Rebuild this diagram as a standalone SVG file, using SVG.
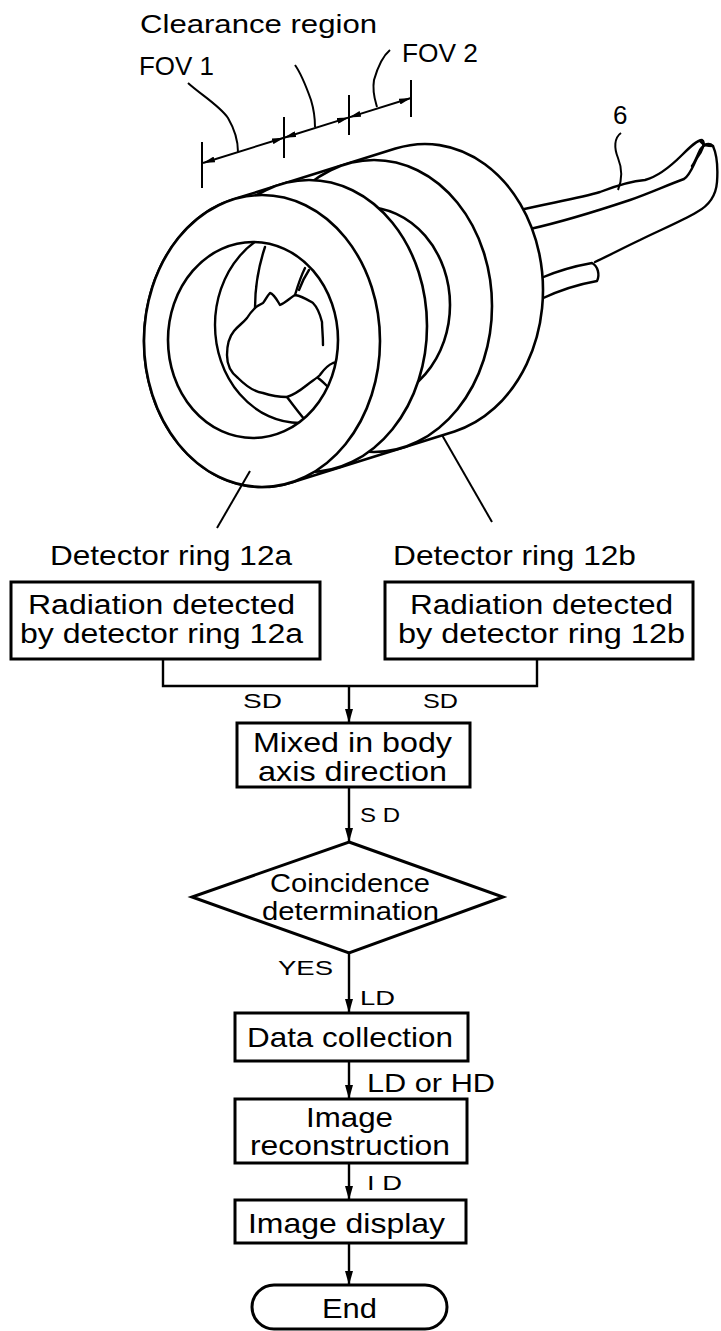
<svg xmlns="http://www.w3.org/2000/svg" width="721" height="1331" viewBox="0 0 721 1331">
<defs>
<style>
text{font-family:"Liberation Sans",Arial,sans-serif;fill:#000}
.t{font-size:28px}
.r{font-size:27px}
.s{font-size:26px}
.lbl{font-size:21px}
.box{fill:#fff;stroke:#000;stroke-width:3}
.ring{fill:#fff;stroke:#000;stroke-width:2.6}
.ln{fill:none;stroke:#000;stroke-width:2.4;stroke-linecap:round;stroke-linejoin:round}
.con{fill:none;stroke:#000;stroke-width:2.4}
.dim{fill:none;stroke:#000;stroke-width:2}
</style>
<marker id="ah" viewBox="0 0 14 8" refX="14" refY="4" markerWidth="14" markerHeight="8" markerUnits="userSpaceOnUse" orient="auto-start-reverse"><path d="M0,0 L14,4 L0,8 Z" fill="#000"/></marker>
<marker id="dh" viewBox="0 0 12 6" refX="12" refY="3" markerWidth="12" markerHeight="6" markerUnits="userSpaceOnUse" orient="auto-start-reverse"><path d="M0,0 L12,3 L0,6 Z" fill="#000"/></marker>
<clipPath id="bore"><ellipse cx="253" cy="340" rx="85" ry="98"/></clipPath>
</defs>

<g id="labels-top">
<text class="s" x="140" y="33" textLength="237" lengthAdjust="spacingAndGlyphs">Clearance region</text>
<text class="s" x="139" y="75" textLength="75" lengthAdjust="spacingAndGlyphs">FOV 1</text>
<text class="s" x="402" y="62" textLength="76" lengthAdjust="spacingAndGlyphs">FOV 2</text>
<text class="s" x="613" y="124">6</text>
</g>

<g id="dimension">
<line class="dim" x1="202" y1="142" x2="202" y2="188"/>
<line class="dim" x1="284" y1="117" x2="284" y2="158"/>
<line class="dim" x1="349" y1="95" x2="349" y2="135"/>
<line class="dim" x1="411" y1="80" x2="411" y2="117"/>
<line class="dim" x1="203" y1="163" x2="284" y2="137.7" marker-start="url(#dh)" marker-end="url(#dh)"/>
<line class="dim" x1="284" y1="137.7" x2="349" y2="117.4" marker-start="url(#dh)" marker-end="url(#dh)"/>
<line class="dim" x1="349" y1="117.4" x2="411" y2="98" marker-start="url(#dh)" marker-end="url(#dh)"/>
<path class="dim" d="M188,83 C200,94 220,106 228,118 C235,130 238,140 238,152"/>
<path class="dim" d="M295,65 C300,72 306,86 311,100 C314,110 315,120 315,127"/>
<path class="dim" d="M390,50 C384,55 378,66 374,80 C372,92 375,100 377,107"/>
<path class="dim" d="M621,133 C614,138 614,148 618,158 C622,168 623,178 618,190"/>
</g>

<g id="patient-legs">
<path class="ln" d="M520,210 C550,203 580,198 600,192 C618,185 632,181 645,180 C660,176 672,165 682,155 C690,147 697,140 702,140 C706,142 702,152 697,158 C692,168 690,175 684,179 C665,186 650,193 630,200 C600,210 570,220 530,229"/>
<path class="ln" d="M541,278 C555,272 575,266 592,263 C598,266 600,275 597,281 C580,284 560,290 541,299"/>
<path class="ln" d="M595,262 C610,255 625,247 640,240 C660,230 680,222 697,212 C710,205 716,195 717,182 C718,168 717,155 713,146 C709,142 704,144 700,150 C697,156 695,162 692,166"/>
<path class="ln" d="M700,141 C704,146 708,146 713,146"/>
</g>

<g id="ring-12b">
<path class="ring" d="M232.5,199.6 L395.5,148.6 A118,146 0 0,1 454.5,431.4 L291.5,482.4 A118,146 0 0,1 232.5,199.6 Z"/>
<ellipse class="ring" cx="374" cy="306" rx="118" ry="146"/>
<ellipse class="ring" cx="365" cy="305" rx="85" ry="98"/>
</g>

<g id="ring-12a">
<ellipse class="ring" cx="309" cy="326" rx="118" ry="146"/>
<ellipse class="ring" cx="262" cy="341" rx="118" ry="146"/>
<ellipse class="ring" cx="253" cy="340" rx="85" ry="98"/>
<g clip-path="url(#bore)">
<ellipse class="ln" cx="300" cy="325" rx="85" ry="98"/>
<path class="ln" d="M323,345 C323,335 322,328 322,322 C320,314 318,308 313,303 C308,300 302,296 295,295 C290,298 285,303 280,305 C277,300 274,294 270,293 C267,296 265,301 263,303 C259,305 257,306 255,308 C252,311 250,313 247,318 C243,323 238,326 234,331 C229,337 227,345 227,355 C227,364 230,372 238,378 C246,386 255,392 263,393 C272,396 280,397 287,397 C296,394 302,389 307,385 C312,381 317,378 320,375 C323,371 326,366 333,363 C337,362 339,362 340,362"/>
<path class="ln" d="M255,308 C255,290 258,268 265,247"/>
<path class="ln" d="M295,295 C298,285 301,276 305,268"/>
<path class="ln" d="M299,290 C302,282 305,276 309,270"/>
<path class="ln" d="M287,397 C293,405 299,413 305,420"/>
<path class="ln" d="M318,378 C321,380 324,383 327,386"/>
</g>
</g>

<g id="ring-labels">
<line class="dim" x1="250" y1="471" x2="217" y2="528"/>
<line class="dim" x1="442" y1="435" x2="492" y2="522"/>
<text class="t" x="50" y="565" textLength="242" lengthAdjust="spacingAndGlyphs">Detector ring 12a</text>
<text class="t" x="393" y="565" textLength="243" lengthAdjust="spacingAndGlyphs">Detector ring 12b</text>
</g>

<g id="connectors">
<polyline class="con" points="163,659 163,686 537,686 537,659"/>
<line class="con" x1="349" y1="686" x2="349" y2="723" marker-end="url(#ah)"/>
<line class="con" x1="349" y1="787" x2="349" y2="842" marker-end="url(#ah)"/>
<line class="con" x1="349" y1="953" x2="349" y2="1013" marker-end="url(#ah)"/>
<line class="con" x1="349" y1="1061" x2="349" y2="1099" marker-end="url(#ah)"/>
<line class="con" x1="349" y1="1163" x2="349" y2="1200" marker-end="url(#ah)"/>
<line class="con" x1="349" y1="1243" x2="349" y2="1285" marker-end="url(#ah)"/>
<text class="lbl" x="243" y="708" textLength="39" lengthAdjust="spacingAndGlyphs">SD</text>
<text class="lbl" x="423" y="708" textLength="35" lengthAdjust="spacingAndGlyphs">SD</text>
<text class="lbl" x="360" y="822" textLength="40" lengthAdjust="spacingAndGlyphs">S D</text>
<text class="lbl" x="278" y="975" textLength="55" lengthAdjust="spacingAndGlyphs">YES</text>
<text class="lbl" x="360" y="1005" textLength="35" lengthAdjust="spacingAndGlyphs">LD</text>
<text class="s" x="367" y="1092" textLength="128" lengthAdjust="spacingAndGlyphs">LD or HD</text>
<text class="lbl" x="367" y="1190" textLength="35" lengthAdjust="spacingAndGlyphs">I D</text>
</g>

<g id="node-radiation-12a">
<rect class="box" x="11" y="582" width="309" height="77"/>
<text class="r" x="28" y="614" textLength="267" lengthAdjust="spacingAndGlyphs">Radiation detected</text>
<text class="r" x="20" y="643" textLength="283" lengthAdjust="spacingAndGlyphs">by detector ring 12a</text>
</g>
<g id="node-radiation-12b">
<rect class="box" x="385" y="582" width="308" height="77"/>
<text class="r" x="410" y="614" textLength="263" lengthAdjust="spacingAndGlyphs">Radiation detected</text>
<text class="r" x="398" y="643" textLength="287" lengthAdjust="spacingAndGlyphs">by detector ring 12b</text>
</g>
<g id="node-mixed">
<rect class="box" x="237" y="723" width="233" height="64"/>
<text class="t" x="253" y="752" textLength="199" lengthAdjust="spacingAndGlyphs">Mixed in body</text>
<text class="t" x="258" y="781" textLength="189" lengthAdjust="spacingAndGlyphs">axis direction</text>
</g>
<g id="node-coincidence">
<polygon class="box" points="349,842 503,897 349,953 192,897"/>
<text class="s" x="270" y="892" textLength="160" lengthAdjust="spacingAndGlyphs">Coincidence</text>
<text class="s" x="262" y="920" textLength="177" lengthAdjust="spacingAndGlyphs">determination</text>
</g>
<g id="node-data">
<rect class="box" x="235" y="1013" width="233" height="48"/>
<text class="t" x="247" y="1047" textLength="206" lengthAdjust="spacingAndGlyphs">Data collection</text>
</g>
<g id="node-recon">
<rect class="box" x="235" y="1099" width="232" height="64"/>
<text class="t" x="306" y="1127" textLength="87" lengthAdjust="spacingAndGlyphs">Image</text>
<text class="t" x="250" y="1155" textLength="200" lengthAdjust="spacingAndGlyphs">reconstruction</text>
</g>
<g id="node-display">
<rect class="box" x="235" y="1200" width="231" height="43"/>
<text class="t" x="248" y="1233" textLength="197" lengthAdjust="spacingAndGlyphs">Image display</text>
</g>
<g id="node-end">
<rect class="box" x="252" y="1285" width="195" height="44" rx="22" ry="22"/>
<text class="t" x="322" y="1318" textLength="55" lengthAdjust="spacingAndGlyphs">End</text>
</g>
</svg>
